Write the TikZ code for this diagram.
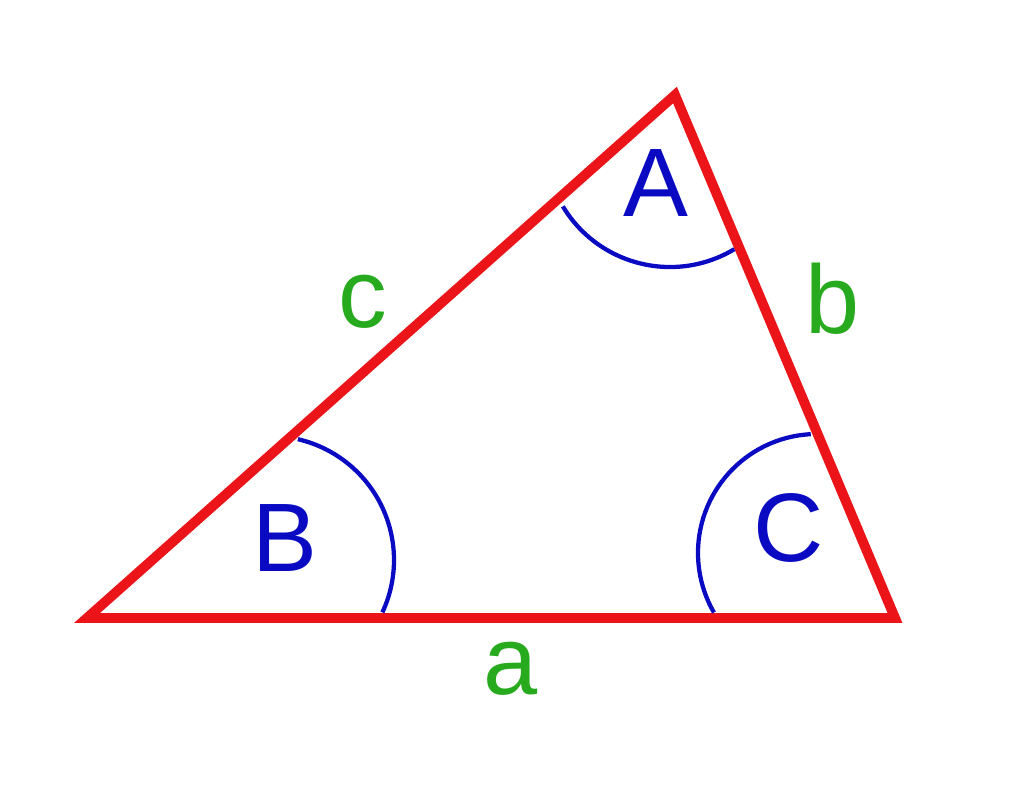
\documentclass[tikz,border=0pt]{standalone}
\usepackage{fontspec}
\setmainfont{Liberation Sans}
\definecolor{tri}{RGB}{235,20,25}
\definecolor{ang}{RGB}{10,10,195}
\definecolor{side}{RGB}{40,170,30}
\begin{document}
\begin{tikzpicture}[x=0.75pt,y=-0.75pt,
  edge/.style={draw=tri,line width=7.4pt,line join=miter},
  arcline/.style={draw=ang,line width=3.2pt},
  anglabel/.style={text=ang,inner sep=0pt,font=\fontsize{73}{80}\selectfont},
  sidelabel/.style={text=side,inner sep=0pt,font=\fontsize{73}{80}\selectfont}]
\useasboundingbox (0,0) rectangle (1024,790);
\coordinate (B) at (87,618);
\coordinate (A) at (675,95);
\coordinate (C) at (895,618);
\draw[edge] (B) -- (A) -- (C) -- cycle;
% angle arcs
\coordinate (oB) at (270,560);
\coordinate (oA) at (670,142);
\coordinate (oC) at (817,553);
\draw[arcline] ([shift={(25:124)}]oB) arc[start angle=25,end angle=-77,radius=124];
\draw[arcline] ([shift={(149:125)}]oA) arc[start angle=149,end angle=59,radius=125];
\draw[arcline] ([shift={(-93:119)}]oC) arc[start angle=-93,end angle=-210,radius=119];
% labels
\node[anglabel] (lA) at (656,183) {A};
\node[anglabel] (lB) at (285,538) {B};
\node[anglabel] (lC) at (789,528) {C};
\node[sidelabel] (la) at (511,669) {a};
\node[sidelabel] (lb) at (833,299) {b};
\node[sidelabel] (lc) at (363,302) {c};
\end{tikzpicture}
\end{document}
